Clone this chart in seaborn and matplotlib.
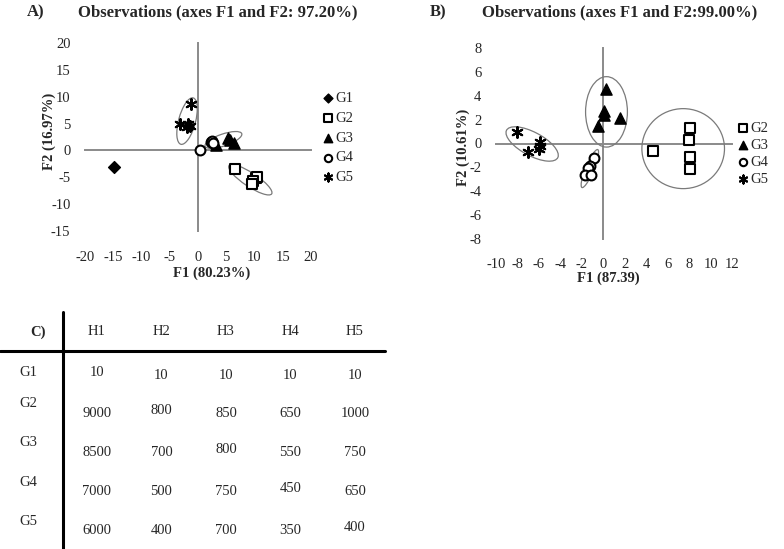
import matplotlib
matplotlib.use("Agg")
import matplotlib.pyplot as plt
from matplotlib.patches import Ellipse
import pandas as pd
import seaborn as sns

# ---------- data : panel A (observations, F1 x F2) ----------
a_groups = ["G1", "G2", "G3", "G4", "G5"]
a_g1_f1 = [-14.8]
a_g1_f2 = [-3.0]
a_g2_f1 = [6.5, 10.2, 10.4, 9.8, 9.5]
a_g2_f2 = [-3.5, -5.1, -4.9, -5.7, -6.2]
a_g3_f1 = [5.3, 5.6, 6.3, 3.2]
a_g3_f2 = [2.3, 2.0, 1.3, 1.1]
a_g4_f1 = [0.3, 2.3, 2.5, 2.7]
a_g4_f2 = [0.0, 1.6, 1.8, 1.3]
a_g5_f1 = [-1.3, -3.2, -1.8, -1.5, -2.0]
a_g5_f2 = [8.6, 5.0, 5.0, 4.6, 4.4]
# confidence ellipses (data units): centre, axes, angle
a_ell_cx = [9.26, 4.5, -1.94]
a_ell_cy = [-5.46, 1.95, 5.46]
a_ell_w = [9.2, 6.9, 8.9]
a_ell_h = [2.5, 2.2, 3.0]
a_ell_ang = [-35, 20, 76]

# ---------- data : panel B ----------
b_groups = ["G2", "G3", "G4", "G5"]
b_g2_f1 = [8.1, 8.0, 4.6, 8.1, 8.1]
b_g2_f2 = [1.3, 0.3, -0.6, -1.15, -2.1]
b_g3_f1 = [0.25, 0.05, 0.1, 1.6, -0.5]
b_g3_f2 = [4.6, 2.7, 2.4, 2.1, 1.45]
b_g4_f1 = [-0.9, -1.2, -1.4, -1.7, -1.15]
b_g4_f2 = [-1.25, -1.85, -2.05, -2.65, -2.65]
b_g5_f1 = [-8.0, -7.0, -5.9, -5.95, -5.9]
b_g5_f2 = [0.95, -0.7, 0.15, -0.45, -0.2]
b_ell_cx = [7.45, 0.3, -1.25, -6.63]
b_ell_cy = [-0.43, 2.65, -2.1, -0.04]
b_ell_w = [7.7, 3.9, 3.5, 5.3]
b_ell_h = [6.7, 5.9, 0.75, 2.0]
b_ell_ang = [0, 0, 65, -25]

# ---------- data : table C ----------
tab_cols = ["H1", "H2", "H3", "H4", "H5"]
tab_rows = ["G1", "G2", "G3", "G4", "G5"]
tab_h1 = [10, 9000, 8500, 7000, 6000]
tab_h2 = [10, 800, 700, 500, 400]
tab_h3 = [10, 850, 800, 750, 700]
tab_h4 = [10, 650, 550, 450, 350]
tab_h5 = [10, 1000, 750, 650, 400]

# ---------- style ----------
sns.set_style("white")
plt.rcParams["font.family"] = ["Liberation Serif", "DejaVu Serif"]
plt.rcParams["axes.unicode_minus"] = False

AXIS_GREY = "#8a8a8a"
ELL_GREY = "#7a7a7a"
MARKERS = {
    "G1": dict(marker="D", s=36, facecolor="black", edgecolor="black", linewidth=1.0),
    "G2": dict(marker="s", s=50, facecolor="white", edgecolor="black", linewidth=1.5),
    "G3": dict(marker="^", s=65, facecolor="black", edgecolor="black", linewidth=1.0),
    "G4": dict(marker="o", s=50, facecolor="white", edgecolor="black", linewidth=1.5),
    "G5": dict(marker=(6, 2, 0), s=60, facecolor="black", edgecolor="black", linewidth=1.5),
}


def make_df(groups, xs, ys):
    parts = [pd.DataFrame({"F1": x, "F2": y, "group": g}) for g, x, y in zip(groups, xs, ys)]
    return pd.concat(parts, ignore_index=True)


def cross_axes(ax, xlim, ylim, xticks, yticks, xpad=14.5):
    """Excel-like crossed axes at zero, labels kept at the outer edge."""
    ax.set_xlim(xlim)
    ax.set_ylim(ylim)
    for side in ("top", "right"):
        ax.spines[side].set_visible(False)
    for side in ("left", "bottom"):
        ax.spines[side].set_position("zero")
        ax.spines[side].set_color(AXIS_GREY)
        ax.spines[side].set_linewidth(1.4)
        ax.spines[side].set_zorder(1)
    ax.set_xticks(xticks)
    ax.set_yticks(yticks)
    ax.tick_params(direction="inout", length=7, width=1.3, color=AXIS_GREY,
                   labelbottom=False, labelleft=False)
    secx = ax.secondary_xaxis("bottom")
    secx.set_xticks(xticks)
    secy = ax.secondary_yaxis("left")
    secy.set_yticks(yticks)
    for sec in (secx, secy):
        for sp in sec.spines.values():
            sp.set_visible(False)
    secx.tick_params(length=0, pad=xpad, labelsize=10.5)
    secy.tick_params(length=0, pad=10.5, labelsize=10.5)


def draw_panel(ax, df, groups, ell):
    for cx, cy, w, h, ang in zip(*ell):
        ax.add_patch(Ellipse((cx, cy), w, h, angle=ang, fill=False,
                             edgecolor=ELL_GREY, linewidth=0.9, zorder=2))
    for g in groups:
        sns.scatterplot(data=df[df["group"] == g], x="F1", y="F2", ax=ax,
                        label=g, zorder=3, **MARKERS[g])


fig = plt.figure(figsize=(7.84, 5.49), dpi=100)

# ---------- panel A ----------
axA = fig.add_axes([85 / 784, 1 - 231 / 549, 226 / 784, 188 / 549])
dfA = make_df(a_groups,
              [a_g1_f1, a_g2_f1, a_g3_f1, a_g4_f1, a_g5_f1],
              [a_g1_f2, a_g2_f2, a_g3_f2, a_g4_f2, a_g5_f2])
draw_panel(axA, dfA, a_groups, (a_ell_cx, a_ell_cy, a_ell_w, a_ell_h, a_ell_ang))
cross_axes(axA, (-20, 20), (-15, 20), range(-20, 21, 5), range(-15, 21, 5))
axA.set_xlabel("F1 (80.23%)", fontsize=10.5, fontweight="bold")
axA.set_ylabel("F2 (16.97%)", fontsize=10.5, fontweight="bold")
axA.xaxis.set_label_coords(0.562, -0.19)
axA.yaxis.set_label_coords(-0.128, 0.532)
axA.legend(loc="upper left", bbox_to_anchor=(316 / 784, 1 - 86 / 549),
           bbox_transform=fig.transFigure, frameon=False, fontsize=10.5,
           markerscale=0.75, handlelength=0.8, handletextpad=0.1,
           labelspacing=0.45, borderaxespad=0)

# ---------- panel B ----------
axB = fig.add_axes([496 / 784, 1 - 239 / 549, 236 / 784, 191 / 549])
dfB = make_df(b_groups,
              [b_g2_f1, b_g3_f1, b_g4_f1, b_g5_f1],
              [b_g2_f2, b_g3_f2, b_g4_f2, b_g5_f2])
draw_panel(axB, dfB, b_groups, (b_ell_cx, b_ell_cy, b_ell_w, b_ell_h, b_ell_ang))
cross_axes(axB, (-10, 12), (-8, 8), range(-10, 13, 2), range(-8, 9, 2), xpad=13.5)
axB.set_xlabel("F1 (87.39)", fontsize=10.5, fontweight="bold")
axB.set_ylabel("F2 (10.61%)", fontsize=10.5, fontweight="bold")
axB.xaxis.set_label_coords(0.475, -0.172)
axB.yaxis.set_label_coords(-0.112, 0.482)
axB.legend(loc="upper left", bbox_to_anchor=(731 / 784, 1 - 116 / 549),
           bbox_transform=fig.transFigure, frameon=False, fontsize=10.5,
           markerscale=0.75, handlelength=0.8, handletextpad=0.1,
           labelspacing=0.25, borderaxespad=0)

# ---------- titles ----------
title_kw = dict(fontsize=12, fontweight="bold", va="center")
fig.text(27 / 784, 1 - 12 / 549, "A)", **title_kw)
fig.text(78 / 784, 1 - 12 / 549, "Observations (axes F1 and F2: 97.20%)", **title_kw)
fig.text(430 / 784, 1 - 12 / 549, "B)", **title_kw)
fig.text(482 / 784, 1 - 12 / 549, "Observations (axes F1 and F2:99.00%)", **title_kw)

# ---------- table C (pixel-like layout coords) ----------
tax = fig.add_axes([0, 0, 392 / 784, 249 / 549])
tax.set_xlim(0, 392)
tax.set_ylim(549, 300)
tax.axis("off")
tax.axvline(63.3, ymin=0, ymax=(549 - 311.7) / 249, color="black", lw=2.2)
tax.axhline(351, xmin=0, xmax=385 / 392, color="black", lw=2.2)

col_x = [97 + 64.5 * j for j in range(len(tab_cols))]
label_y = [373, 404, 443, 483, 522]
value_y = [376, 414, 453, 492, 531]
cell_kw = dict(fontsize=10.5, ha="center", va="center")
tax.text(37.7, 332, "C)", fontsize=10.5, fontweight="bold", ha="center", va="center")
for j, h in enumerate(tab_cols):
    tax.text(col_x[j], 332, h, **cell_kw)
columns = [tab_h1, tab_h2, tab_h3, tab_h4, tab_h5]
for i, g in enumerate(tab_rows):
    tax.text(28, label_y[i], g, **cell_kw)
    for j, col in enumerate(columns):
        # diagonal cells sit a little higher in the original
        dy = -3.5 if i == j else 0
        tax.text(col_x[j], value_y[i] + dy, str(col[i]), **cell_kw)

fig.savefig("out.png", dpi=100)
